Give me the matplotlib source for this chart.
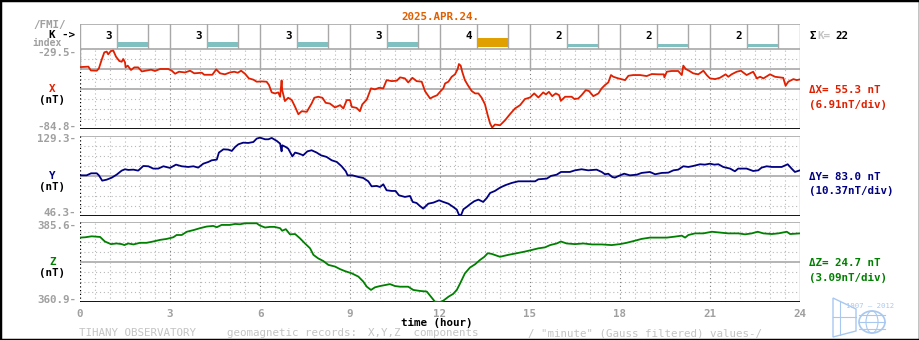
import numpy as np
import matplotlib
matplotlib.use('Agg')
import matplotlib.pyplot as plt
from matplotlib.patches import Rectangle, Ellipse, Polygon

# --- data -------------------------------------------------------------
k_index = [3, 3, 3, 3, 4, 2, 2, 2]  # K per 3-hour interval
sum_k = 22

x_range = (-84.8, -29.5)
y_range = (46.3, 129.3)
z_range = (360.9, 385.6)
ranges = ['55.3', '83.0', '24.7']
per_div = ['6.91', '10.37', '3.09']

tx = [0, 0.28, 0.36, 0.56, 0.63, 0.72, 0.81, 0.89, 0.94, 1.03, 1.11, 1.2, 1.31, 1.39,
      1.44, 1.5, 1.52, 1.59, 1.7, 1.81, 1.94, 2.06, 2.19, 2.37, 2.5, 2.67, 2.94, 3.06,
      3.17, 3.3, 3.5, 3.67, 3.81, 4.06, 4.14, 4.41, 4.54, 4.67, 4.83, 5.0, 5.14, 5.26,
      5.37, 5.5, 5.63, 5.78, 5.89, 6.06, 6.22, 6.3, 6.39, 6.5, 6.61, 6.67, 6.72, 6.74,
      6.83, 6.94, 7.06, 7.17, 7.28, 7.39, 7.56, 7.61, 7.72, 7.81, 7.94, 8.08, 8.19, 8.33,
      8.5, 8.67, 8.78, 8.89, 9.0, 9.06, 9.22, 9.33, 9.41, 9.56, 9.7, 9.83, 9.97, 10.11,
      10.22, 10.39, 10.56, 10.67, 10.83, 10.94, 11.08, 11.22, 11.39, 11.5, 11.67, 11.78,
      11.9, 12.0, 12.11, 12.17, 12.28, 12.39, 12.5, 12.59, 12.63, 12.69, 12.74, 12.83,
      12.94, 13.06, 13.17, 13.28, 13.39, 13.5, 13.59, 13.67, 13.74, 13.83, 14.0, 14.17,
      14.33, 14.5, 14.67, 14.83, 15.0, 15.14, 15.28, 15.44, 15.53, 15.63, 15.74, 15.86,
      15.97, 16.03, 16.17, 16.39, 16.48, 16.61, 16.72, 16.86, 16.97, 17.11, 17.28, 17.39,
      17.5, 17.61, 17.7, 17.78, 17.94, 18.17, 18.28, 18.44, 18.67, 18.89, 19.06, 19.28,
      19.46, 19.48, 19.56, 19.72, 19.94, 20.06, 20.11, 20.19, 20.3, 20.44, 20.61, 20.78,
      20.89, 21.0, 21.17, 21.33, 21.52, 21.61, 21.72, 21.89, 22.03, 22.22, 22.44, 22.56,
      22.67, 22.78, 23.0, 23.17, 23.44, 23.52, 23.61, 23.78, 23.89, 24.0]
bx = [-41.8, -41.5, -44.1, -44.3, -42.7, -36.9, -31.6, -31.1, -33.0, -30.7, -30.4, -34.6,
      -37.6, -38.1, -36.2, -38.5, -42.0, -40.8, -43.8, -42.0, -42.0, -44.8, -44.3, -43.6,
      -44.5, -43.1, -43.1, -44.3, -46.4, -45.0, -45.5, -44.3, -46.1, -45.7, -47.1, -47.1,
      -43.4, -46.1, -46.8, -45.5, -45.0, -45.7, -44.3, -46.4, -49.6, -50.5, -51.9, -51.7,
      -51.9, -54.2, -59.3, -60.0, -59.3, -62.3, -51.0, -57.7, -65.3, -63.0, -64.6, -69.3,
      -74.4, -72.3, -72.7, -70.9, -67.0, -63.0, -62.3, -63.0, -66.5, -67.0, -69.7, -68.1,
      -70.4, -64.6, -64.6, -69.3, -70.0, -72.3, -67.6, -64.2, -56.5, -57.2, -56.1, -56.5,
      -50.8, -51.5, -51.2, -48.9, -49.6, -52.4, -49.2, -51.5, -51.9, -58.4, -63.5, -62.3,
      -61.3, -58.9, -56.5, -53.1, -51.9, -48.5, -46.8, -43.1, -39.7, -40.8, -45.0, -50.8,
      -54.7, -58.4, -60.0, -60.0, -63.0, -67.6, -75.0, -80.8, -83.6, -81.5, -82.0, -78.5,
      -74.4, -70.4, -68.1, -63.9, -62.8, -60.0, -62.8, -59.3, -60.7, -58.9, -61.9, -60.0,
      -61.2, -65.1, -62.3, -62.3, -63.9, -63.5, -61.2, -57.7, -58.4, -61.9, -60.0, -56.5,
      -54.2, -52.4, -47.3, -48.5, -49.6, -50.8, -47.8, -47.3, -47.3, -48.0, -46.6, -46.8,
      -46.8, -48.9, -45.0, -44.5, -44.5, -47.3, -40.8, -43.1, -44.3, -46.1, -46.8, -44.3,
      -47.3, -49.6, -50.1, -49.2, -46.8, -48.5, -46.8, -45.0, -44.3, -47.3, -45.0, -49.6,
      -48.5, -49.6, -46.8, -48.5, -49.2, -54.7, -51.9, -50.1, -50.8, -50.3]

ty = [0, 0.22, 0.37, 0.56, 0.63, 0.74, 0.89, 1.06, 1.22, 1.39, 1.5, 1.61, 1.78, 1.94,
      2.11, 2.28, 2.44, 2.61, 2.78, 3.0, 3.2, 3.39, 3.61, 3.78, 3.94, 4.11, 4.28, 4.39,
      4.56, 4.63, 4.78, 4.94, 5.06, 5.17, 5.28, 5.44, 5.61, 5.78, 5.89, 6.0, 6.17, 6.28,
      6.39, 6.56, 6.67, 6.72, 6.74, 6.86, 6.94, 7.08, 7.17, 7.3, 7.44, 7.58, 7.72, 7.89,
      8.03, 8.22, 8.39, 8.56, 8.72, 8.86, 8.92, 9.08, 9.28, 9.44, 9.61, 9.72, 9.89, 10.0,
      10.11, 10.22, 10.39, 10.52, 10.63, 10.83, 11.0, 11.09, 11.22, 11.33, 11.44, 11.61,
      11.78, 11.97, 12.11, 12.28, 12.44, 12.56, 12.63, 12.7, 12.78, 12.89, 13.0, 13.14,
      13.28, 13.44, 13.56, 13.67, 13.83, 14.0, 14.17, 14.39, 14.61, 14.83, 15.17, 15.28,
      15.56, 15.7, 15.89, 16.03, 16.33, 16.5, 16.72, 16.94, 17.22, 17.39, 17.5, 17.61,
      17.74, 17.83, 18.0, 18.14, 18.33, 18.56, 18.72, 19.0, 19.17, 19.39, 19.61, 19.78,
      19.94, 20.11, 20.28, 20.44, 20.67, 20.83, 21.0, 21.14, 21.28, 21.44, 21.67, 21.83,
      21.94, 22.22, 22.44, 22.61, 22.72, 22.89, 23.06, 23.39, 23.59, 23.72, 23.83, 24.0]
by = [88.8, 88.8, 90.9, 90.9, 88.8, 83.3, 84.3, 86.4, 89.5, 93.7, 95.1, 94.4, 94.7, 93.7,
      98.5, 98.2, 95.8, 95.8, 98.2, 96.5, 99.9, 98.2, 97.5, 98.2, 96.8, 100.9, 102.7, 104.4,
      105.1, 112.4, 115.8, 115.5, 114.1, 118.2, 121.0, 122.7, 122.4, 123.4, 126.9, 127.9,
      126.2, 126.2, 127.6, 124.5, 121.7, 113.7, 120.0, 118.2, 116.5, 108.5, 112.4, 111.3,
      109.6, 113.7, 114.8, 112.4, 109.6, 107.9, 104.4, 102.7, 98.2, 93.0, 88.8, 88.8, 87.1,
      86.1, 82.6, 77.4, 77.8, 76.7, 79.5, 73.3, 72.6, 72.6, 68.1, 66.4, 67.4, 61.2, 60.1,
      57.0, 54.3, 59.4, 60.5, 62.9, 61.2, 59.4, 56.0, 53.2, 48.0, 47.3, 53.6, 56.0, 58.8,
      61.9, 63.6, 61.2, 65.3, 70.5, 72.6, 76.0, 78.5, 80.9, 82.6, 82.6, 82.6, 84.7, 85.4,
      88.2, 89.5, 92.3, 92.3, 94.0, 95.1, 94.0, 94.7, 92.3, 89.9, 90.5, 87.1, 86.4, 88.8,
      90.5, 88.8, 89.5, 91.3, 92.3, 89.9, 91.3, 91.6, 94.0, 94.7, 98.2, 97.5, 98.5, 100.3,
      99.9, 100.9, 99.9, 100.3, 97.5, 95.8, 93.0, 95.8, 95.8, 93.3, 94.0, 96.8, 98.2, 97.5,
      97.5, 100.3, 95.8, 92.3, 94.0]

tz = [0, 0.17, 0.39, 0.67, 0.83, 1.03, 1.22, 1.39, 1.48, 1.61, 1.78, 2.0, 2.22, 2.44,
      2.67, 2.89, 3.11, 3.22, 3.39, 3.56, 3.78, 4.0, 4.22, 4.44, 4.56, 4.72, 5.0, 5.17,
      5.33, 5.5, 5.72, 5.89, 6.0, 6.17, 6.33, 6.48, 6.67, 6.74, 6.86, 7.0, 7.17, 7.33,
      7.5, 7.67, 7.78, 7.94, 8.11, 8.28, 8.5, 8.67, 8.83, 9.06, 9.28, 9.44, 9.56, 9.7,
      9.83, 10.0, 10.17, 10.33, 10.5, 10.67, 10.94, 11.11, 11.33, 11.56, 11.7, 11.83,
      12.0, 12.11, 12.28, 12.44, 12.56, 12.67, 12.83, 13.0, 13.17, 13.33, 13.48, 13.59,
      13.72, 14.0, 14.28, 14.56, 14.83, 15.06, 15.28, 15.5, 15.67, 15.89, 16.03, 16.22,
      16.5, 16.78, 17.06, 17.39, 17.72, 18.0, 18.22, 18.48, 18.72, 19.0, 19.28, 19.56,
      19.83, 20.06, 20.17, 20.28, 20.5, 20.78, 21.06, 21.28, 21.61, 21.94, 22.17, 22.39,
      22.59, 22.78, 23.06, 23.28, 23.56, 23.67, 24.0]
bz = [380.8, 380.9, 381.2, 381.0, 379.6, 378.8, 379.0, 378.8, 378.5, 379.0, 378.7, 379.2,
      379.2, 379.6, 380.1, 380.4, 380.9, 381.6, 381.6, 382.6, 383.1, 383.7, 384.2, 384.4,
      384.0, 384.7, 384.7, 385.0, 384.9, 385.2, 385.2, 385.2, 384.5, 383.9, 384.1, 384.1,
      383.7, 382.9, 383.4, 381.8, 381.9, 380.6, 379.0, 377.5, 375.5, 374.4, 373.6, 372.4,
      371.9, 371.1, 370.5, 369.8, 368.8, 367.3, 365.7, 364.7, 365.5, 365.9, 366.2, 366.5,
      365.9, 365.7, 365.7, 364.7, 364.4, 364.2, 362.6, 361.1, 361.0, 361.4, 362.6, 363.5,
      364.7, 366.7, 369.8, 371.6, 372.6, 373.9, 374.9, 376.0, 375.8, 374.9, 375.5, 376.0,
      376.5, 377.0, 377.5, 377.8, 378.5, 379.0, 379.6, 379.0, 378.8, 379.0, 378.7, 378.7,
      378.5, 378.8, 379.2, 379.8, 380.4, 380.8, 380.8, 380.8, 381.1, 381.4, 380.8, 381.6,
      382.1, 382.1, 382.6, 382.4, 382.1, 382.1, 381.8, 382.1, 382.6, 382.1, 381.9, 382.1,
      382.6, 381.9, 382.1]

hour_ticks = list(range(0, 25, 3))

# --- figure -----------------------------------------------------------
W, H = 920, 340
fig = plt.figure(figsize=(W / 100, H / 100), dpi=100)
fig.patch.set_facecolor('white')

FONT = 'DejaVu Sans Mono'
FS = 7.8
GRAY = '#a0a0a0'
LGRAY = '#c4c4c4'
GRID = '#a8a8a8'
DOT = '#b8b8b8'
RED = '#e02000'
NAVY = '#000080'
GREEN = '#008000'


def fx(px):
    return px / W


def fy(py):
    return 1 - py / H


def label(px, py, s, color='black', ha='left', bold=True, size=FS):
    fig.text(fx(px), fy(py), s, color=color, ha=ha, va='center', family=FONT,
             fontsize=size, fontweight='bold' if bold else 'normal')


def panel(top, bottom):
    ax = fig.add_axes([fx(80), fy(bottom), 720 / W, (bottom - top) / H])
    ax.set_xlim(0, 24)
    ax.set_axis_off()
    return ax


def grid(ax, lo, hi, solid_divs):
    levels = np.linspace(lo, hi, 9)
    for i, v in enumerate(levels):
        if i == 0:
            ax.axhline(v, color='black', lw=1.3, zorder=3)
        elif i in solid_divs:
            ax.axhline(v, color=GRID, lw=1.2, zorder=1)
        else:
            ax.axhline(v, color=DOT, lw=0.8, ls=(0, (1, 2.5)), zorder=1)
    for h in np.arange(0.5, 24, 0.5):
        if h % 3 == 0:
            ax.axvline(h, color='#808080', lw=0.8, ls=(0, (1, 2.5)), zorder=1)
        else:
            ax.axvline(h, color=DOT, lw=0.8, ls=(0, (1, 2.5)), zorder=1)
    ax.axvline(0, color='black', lw=0.9, ls=(0, (1, 2)), zorder=1)
    ax.axvline(24, color=GRID, lw=1.0, zorder=1)
    ax.set_ylim(lo, hi)


# K-index strip (height in pixel units, 25 px tall)
axk = panel(24.3, 49.3)
axk.set_ylim(0, 25)
axk.axhline(25, color=GRID, lw=1.2)
axk.axhline(0.3, color=GRID, lw=1.2)
for i, k in enumerate(k_index):
    t0 = 3 * i
    for xv in (t0, t0 + 1.24, t0 + 2.26):
        axk.axvline(xv, color=GRID, lw=1.0)
    axk.bar(t0 + 1.75, 2 ** (k - 1) + 0.7, width=1.02, bottom=2.6,
            color='#e0a000' if k >= 4 else '#80c0c0', zorder=3)
    axk.text(t0 + 0.97, 13.6, str(k), ha='center', va='center', family=FONT,
             fontsize=FS, fontweight='bold')
axk.axvline(24, color=GRID, lw=1.0)

# X component
axx = panel(49.3, 129.3)
grid(axx, *x_range, solid_divs=(4, 6, 8))
step = (x_range[1] - x_range[0]) / 8
for h in hour_ticks[:-1]:
    axx.plot([h, h], [x_range[1] - 2 * step, x_range[1]], color=GRID, lw=1.0, zorder=2)
axx.plot(tx, bx, color=RED, lw=1.3, zorder=4)

# Y component
axy = panel(136.3, 216.3)
grid(axy, *y_range, solid_divs=(4, 8))
axy.plot(ty, by, color=NAVY, lw=1.3, zorder=4)

# Z component
axz = panel(222.0, 302.3)
grid(axz, *z_range, solid_divs=(4, 8))
axz.plot(tz, bz, color=GREEN, lw=1.3, zorder=4)

for h in hour_ticks:
    axz.annotate(str(h), (h, z_range[0]), xytext=(0, -12), textcoords='offset pixels',
                 ha='center', va='center', family=FONT, fontsize=FS,
                 fontweight='bold', color=GRAY)

# --- text -------------------------------------------------------------
label(440, 16.7, '2025.APR.24.', color='#e06000', ha='center')

label(49.5, 24.8, '/FMI/', color=GRAY, ha='center')
label(75, 35.2, 'K ->', ha='right')
label(47.5, 43.2, 'index', color=GRAY, ha='center', size=7.0)

panels = [
    (x_range, 53.0, 126.7, 'X', RED, 89.3),
    (y_range, 139.3, 213.3, 'Y', NAVY, 176.0),
    (z_range, 225.7, 300.0, 'Z', GREEN, 262.3),
]
for j, ((lo, hi), y_top, y_bot, name, col, y_name) in enumerate(panels):
    label(76, y_top, '%.1f-' % hi, color=GRAY, ha='right')
    label(76, y_bot, '%.1f-' % lo, color=GRAY, ha='right')
    label(52.5, y_name, name, color=col, ha='center')
    label(52.5, y_name + 11, '(nT)', ha='center')
    label(809, y_name + 0.7, '\u0394%s= %s nT' % (name, ranges[j]), color=col)
    label(809, y_name + 15.2, '(%snT/div)' % per_div[j], color=col)

label(810, 36, '\u03a3', ha='left')
label(817, 36, 'K=', color=LGRAY)
label(835, 36, str(sum_k))

label(437, 322.7, 'time (hour)', ha='center')

label(79, 333, 'TIHANY OBSERVATORY', color=LGRAY, bold=False)
label(227, 333, 'geomagnetic records:', color=LGRAY, bold=False)
label(368, 333, 'X,Y,Z  components', color=LGRAY, bold=False)
label(528, 333, '/ "minute" (Gauss filtered) values-/', color=LGRAY, bold=False)

# observatory logo, bottom right
LOGO = '#a8c8f0'
axl = fig.add_axes([fx(830), fy(339), 70 / W, 44 / H])
axl.set_xlim(830, 900)
axl.set_ylim(339, 295)
axl.set_axis_off()
axl.add_patch(Polygon([(833, 298), (856, 309), (856, 331), (833, 337)], closed=True,
                      fill=False, ec=LOGO, lw=1.0))
axl.plot([833, 856], [317, 317], color=LOGO, lw=0.8)
axl.plot([840, 840], [301, 335], color=LOGO, lw=0.8)
axl.add_patch(Ellipse((872, 322), 26, 22, fill=False, ec=LOGO, lw=1.2))
axl.add_patch(Ellipse((872, 322), 12, 22, fill=False, ec=LOGO, lw=0.8))
for yy in (315, 322, 329):
    axl.plot([859, 885], [yy, yy], color=LOGO, lw=0.8)
axl.text(870, 305.5, '1907 \u2014 2012', color=LOGO, ha='center', va='center',
         family=FONT, fontsize=5.2)

# image frame
fig.add_artist(Rectangle((0, 0), 1, 1, transform=fig.transFigure, fill=False,
                         ec='black', lw=2.5))

fig.savefig('out.png', dpi=100)
